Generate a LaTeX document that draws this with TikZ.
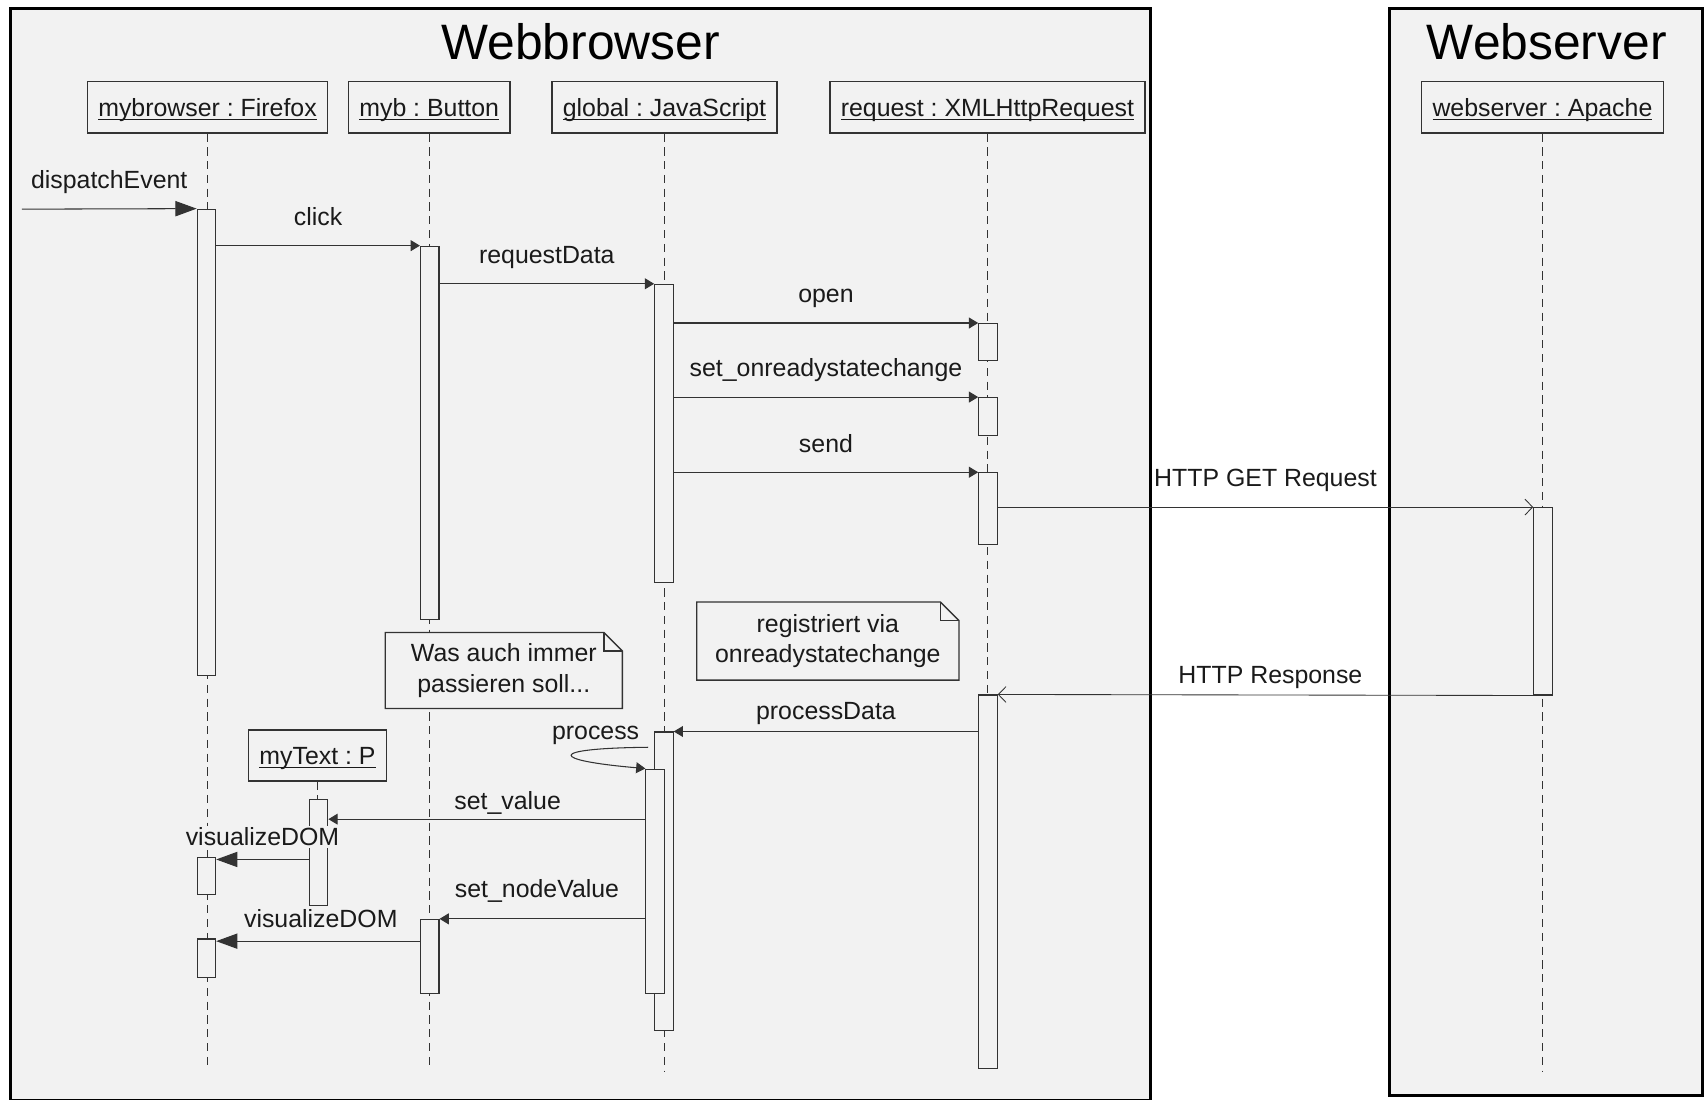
\documentclass[tikz,border=0pt]{standalone}
\usepackage{fontspec}
\setmainfont{Liberation Sans}
\usetikzlibrary{arrows.meta,positioning,fit}
\definecolor{seqBg}{RGB}{242,242,242}
\definecolor{seqLine}{RGB}{51,51,51}
\definecolor{seqText}{RGB}{26,26,26}
\newcommand{\objname}[1]{\underline{\smash{#1}\rule{0pt}{11.4pt}}}
\frenchspacing

\begin{document}
\begin{tikzpicture}[x=0.02cm, y=-0.02cm,
  every node/.style={font=\fontsize{13}{16}\selectfont, text=seqText},
  zone/.style={draw=black, line width=1.6pt, fill=seqBg},
  frametitle/.style={font=\fontsize{26}{30}\selectfont, text=black, anchor=base},
  headbox/.style={draw=seqLine, line width=0.7pt, fill=seqBg, minimum height=0.94cm, inner xsep=0.2cm},
  lifeline/.style={draw=seqLine, line width=0.5pt, dash pattern=on 4.3pt off 2.9pt},
  actbar/.style={draw=seqLine, line width=0.55pt, fill=seqBg, inner sep=0pt},
  call/.style={draw=seqLine, line width=0.55pt, -{Triangle[length=1.7mm, width=2.0mm]}},
  bigcall/.style={draw=seqLine, line width=0.55pt, -{Triangle[length=3.9mm, width=2.8mm]}},
  httpmsg/.style={draw=seqLine, line width=0.45pt, -{Straight Barb[length=1.4mm, width=2.9mm]}},
  lbl/.style={midway, anchor=base, yshift=#1, inner sep=1pt},
  lbl/.default=0.37cm,
  notebox/.style={fill=seqBg, align=center, inner sep=0pt},
  noteline/.style={draw=seqLine, line width=0.7pt},
]
\useasboundingbox (0,0) rectangle (1568,1009);
% Rahmen: Browser links, Server rechts
\draw[zone] (10,8) rectangle (1056,1010);
\draw[zone] (1276,8) rectangle (1563,1006);
\node[frametitle] (tBrowser) at (533,54.5) {Webbrowser};
\node[frametitle] (tServer) at (1420,54.5) {Webserver};
% Objekte (Koepfe)
\foreach \n/\x/\t in {brw/190.5/mybrowser : Firefox, btn/394/myb : Button,
  gjs/610/global : JavaScript, req/906.5/request : XMLHttpRequest,
  wsv/1416/webserver : Apache}
  \node[headbox] (\n) at (\x,98.5) {\objname{\t}};
% Lebenslinien
\foreach \n/\e in {brw/980, btn/978, gjs/983, req/982, wsv/983}
  \draw[lifeline] (\n.south) -- (\n.south |- 0,\e);
% Aktivierungsbalken: Name / Mitte x / oben / unten
\foreach \n/\x/\a/\b in {brw1/189.5/192/620, btn1/394.5/226/569, gjs1/609.5/261/535,
  req1/907/297/331, req2/907/365/400, req3/907/434/500, wsv1/1416.5/466/638,
  req4/907/638/981, gjs2/609.5/672/946, gjs3/601.5/706/912,
  brw2/189.5/787/821, btn2/394.5/844/912, brw3/189.5/862/897}
  \node[actbar, fit={(\x-8.5,\a) (\x+8.5,\b)}] (\n) {};
% myText wird spaet erzeugt
\node[headbox] (txt) at (291.5,693.5) {\objname{myText : P}};
\draw[lifeline] (txt.south) -- (txt.south |- 0,734);
\node[actbar, fit={(284,734) (301,831)}] (txt1) {};
% Notizen mit Eselsohr
\node[notebox, minimum width=4.34cm, minimum height=1.38cm] (noteDo) at (462.5,615.5) {Was auch immer\\passieren soll...};
\node[notebox, minimum width=4.8cm, minimum height=1.42cm] (noteReg) at (760,588.5) {registriert via\\onreadystatechange};
\foreach \m in {noteDo, noteReg}{
  \draw[noteline] (\m.north west) -- ([xshift=-0.34cm]\m.north east) -- ([yshift=-0.34cm]\m.north east)
    -- (\m.south east) -- (\m.south west) -- cycle;
  \draw[noteline] ([xshift=-0.34cm]\m.north east) |- ([yshift=-0.34cm]\m.north east);
}
% Nachrichten
\coordinate (dispStart) at (20,192);
\draw[bigcall] (dispStart) -- node[lbl] {dispatchEvent} (brw1.north west);
\draw[call] (brw1.east |- btn1.north) -- node[lbl] {click} (btn1.north west);
\draw[call] (btn1.east |- gjs1.north) -- node[lbl] {requestData} (gjs1.north west);
\draw[call] (gjs1.east |- req1.north) -- node[lbl] {open} (req1.north west);
\draw[call] (gjs1.east |- req2.north) -- node[lbl] {set\_onreadystatechange} (req2.north west);
\draw[call] (gjs1.east |- req3.north) -- node[lbl] {send} (req3.north west);
\draw[httpmsg] (req3.east |- wsv1.north) -- node[lbl] {HTTP GET Request} (wsv1.north west);
\draw[httpmsg] (wsv1.south west) -- node[lbl=0.22cm, xshift=0.09cm] {HTTP Response} (req4.north east);
\draw[call] (req4.west |- gjs2.north) -- node[lbl=0.22cm] {processData} (gjs2.north east);
% Selbstaufruf process
\coordinate (procStart) at (595,686);
\draw[call] (procStart) .. controls (500,687) and (505,698) .. (gjs3.north west);
\node[anchor=base east] (procLbl) at (593,679) {process};
\draw[call] (gjs3.west |- 0,752) -- node[lbl=0.17cm, xshift=0.38cm] {set\_value} (txt1.east |- 0,752);
\draw[bigcall] (txt1.west |- 0,789) -- node[lbl=0.25cm, fill=seqBg] {visualizeDOM} (brw2.east |- 0,789);
\draw[call] (gjs3.west |- btn2.north) -- node[lbl=0.39cm, xshift=-0.1cm] {set\_nodeValue} (btn2.north east);
\draw[bigcall] (btn2.west |- 0,864) -- node[lbl=0.25cm, xshift=0.05cm] {visualizeDOM} (brw3.east |- 0,864);
\end{tikzpicture}
\end{document}
